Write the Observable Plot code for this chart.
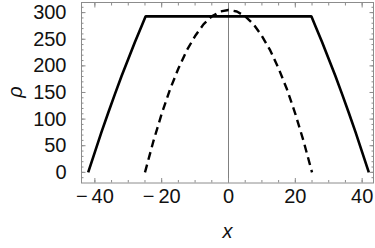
<!DOCTYPE html>
<html>
<head>
<meta charset="utf-8">
<script src="https://cdn.jsdelivr.net/npm/d3@7"></script>
<script src="https://cdn.jsdelivr.net/npm/@observablehq/plot@0.6"></script>
<style>
  html, body { margin: 0; padding: 0; background: #fff; }
  #chart svg { display: block; }
</style>
</head>
<body>
<div id="chart"></div>
<script>
// Solid profile (trapezoid with slightly curved sides)
const solidX = [-42, -40, -38, -36, -34, -32, -30, -28, -26, -24.8, 24.8, 26, 28, 30, 32, 34, 36, 38, 40, 42];
const solidRho = [0, 38, 76, 112, 147, 181, 213, 245, 275, 293, 293, 275, 245, 213, 181, 147, 112, 76, 38, 0];

// Dashed profile (parabola-like)
const dashX = [-25, -22.5, -20, -17.5, -15, -12.5, -10, -7.5, -5, -2.5, 0, 2.5, 5, 7.5, 10, 12.5, 15, 17.5, 20, 22.5, 25];
const dashRho = [0, 58, 110, 156, 195, 229, 256, 278, 293, 302, 305, 302, 293, 278, 256, 229, 195, 156, 110, 58, 0];

// Ticks
const xMajor = [-40, -20, 0, 20, 40];
const xMinor = [-40, -35, -30, -25, -20, -15, -10, -5, 0, 5, 10, 15, 20, 25, 30, 35, 40];
const yMajor = [0, 50, 100, 150, 200, 250, 300];
const yMinor = [-10, 0, 10, 20, 30, 40, 50, 60, 70, 80, 90, 100, 110, 120, 130, 140, 150, 160, 170, 180, 190, 200, 210, 220, 230, 240, 250, 260, 270, 280, 290, 300, 310];

const xLabel = "x";
const yLabel = "ρ";

const solid = solidX.map((x, i) => ({x, rho: solidRho[i]}));
const dashed = dashX.map((x, i) => ({x, rho: dashRho[i]}));

const fmt = d => (d < 0 ? "\u2212\u2009" : "") + Math.abs(d);
const frameColor = "#8c8c8c";
const blank = () => "";
const tickOpts = (anchor, size) => ({ anchor, tickSize: size, tickFormat: blank, stroke: frameColor, label: null });

const chart = Plot.plot({
  width: 375,
  height: 248,
  marginLeft: 81,
  marginRight: 2,
  marginTop: 2,
  marginBottom: 65.5,
  style: { fontFamily: "Liberation Sans, Arial, sans-serif", background: "#fff" },
  x: { domain: [-44, 43.4], axis: null },
  y: { domain: [-20, 319], axis: null },
  marks: [
    Plot.ruleX([0], { stroke: "#808080", strokeWidth: 1 }),
    Plot.line(dashed, { x: "x", y: "rho", stroke: "#000", strokeWidth: 2.4, strokeDasharray: "8,5", strokeLinecap: "butt" }),
    Plot.line(solid, { x: "x", y: "rho", stroke: "#000", strokeWidth: 2.6, strokeLinejoin: "miter", strokeLinecap: "butt" }),
    Plot.frame({ stroke: frameColor, strokeWidth: 1 }),
    // inward ticks
    Plot.axisX(xMinor, tickOpts("bottom", -2.5)),
    Plot.axisX(xMajor, tickOpts("bottom", -4.5)),
    Plot.axisX(xMinor, tickOpts("top", -2.5)),
    Plot.axisX(xMajor, tickOpts("top", -4.5)),
    Plot.axisY(yMinor, tickOpts("left", -2.5)),
    Plot.axisY(yMajor, tickOpts("left", -4.5)),
    Plot.axisY(yMinor, tickOpts("right", -2.5)),
    Plot.axisY(yMajor, tickOpts("right", -4.5)),
    // labels
    Plot.axisX(xMajor, { anchor: "bottom", tickSize: 0, tickPadding: 6, tickFormat: fmt, fontSize: 20, fill: "#111", label: null }),
    Plot.axisY(yMajor, { anchor: "left", tickSize: 0, tickPadding: 15, tickFormat: fmt, fontSize: 20, fill: "#111", label: null }),
    Plot.text([xLabel], { frameAnchor: "bottom", dy: 55, fontSize: 20, fontStyle: "italic", fill: "#111" }),
    Plot.text([yLabel], { frameAnchor: "left", dx: -66, dy: 5, rotate: -90, fontSize: 20, fontStyle: "italic", fill: "#111" })
  ]
});
document.getElementById("chart").appendChild(chart);
</script>
</body>
</html>
